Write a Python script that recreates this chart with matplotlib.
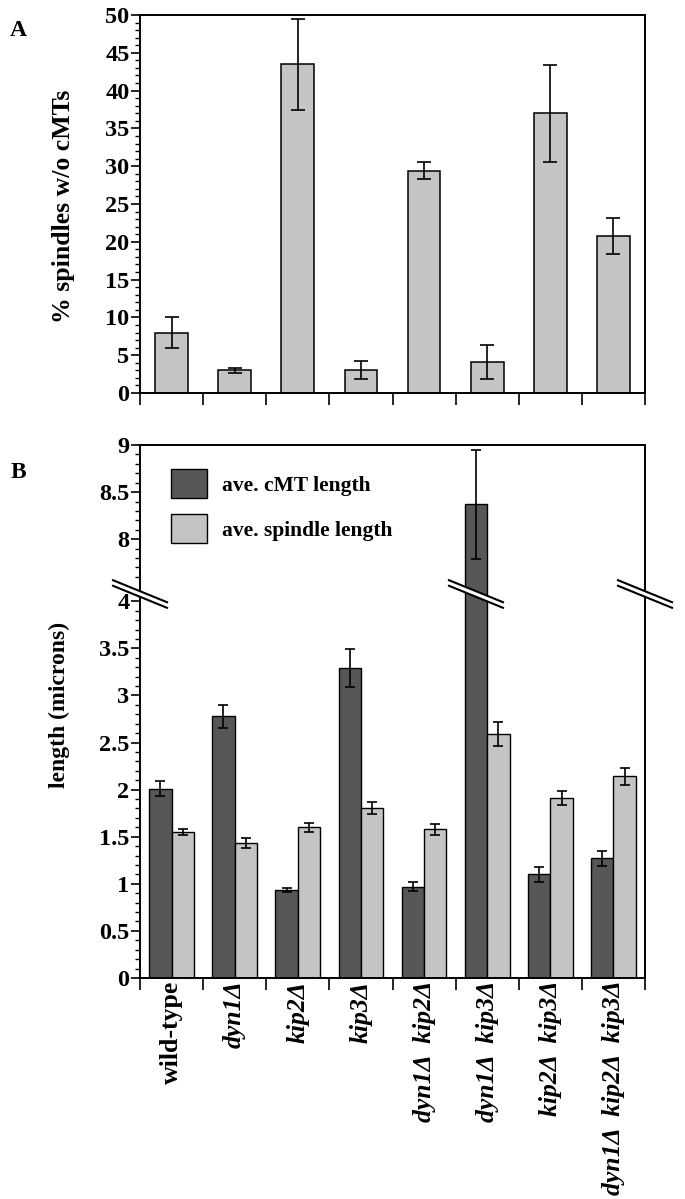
import numpy as np
import matplotlib.pyplot as plt
from matplotlib.patches import Polygon

plt.rcParams['font.family'] = ['Liberation Serif', 'DejaVu Serif']
plt.rcParams['font.weight'] = 'bold'

strains = ['wild-type', 'dyn1Δ', 'kip2Δ', 'kip3Δ', 'dyn1Δ  kip2Δ',
           'dyn1Δ  kip3Δ', 'kip2Δ  kip3Δ', 'dyn1Δ  kip2Δ  kip3Δ']

# panel A: % spindles without cytoplasmic MTs
pct_no_cmt = [8.0, 3.0, 43.5, 3.0, 29.4, 4.1, 37.0, 20.8]
pct_err = [2.0, 0.3, 6.0, 1.2, 1.1, 2.2, 6.4, 2.4]

# panel B: lengths (microns)
cmt_len = [2.01, 2.78, 0.935, 3.29, 0.97, 8.37, 1.10, 1.27]
cmt_err = [0.08, 0.12, 0.02, 0.20, 0.05, 0.58, 0.08, 0.08]
spindle_len = [1.55, 1.435, 1.60, 1.806, 1.58, 2.59, 1.915, 2.14]
spindle_err = [0.035, 0.05, 0.045, 0.06, 0.06, 0.13, 0.075, 0.09]

light = '#c4c4c4'
dark = '#575757'
W, H = 685, 1199

fig = plt.figure(figsize=(W / 100, H / 100), dpi=100)
axA = fig.add_axes([140 / W, 1 - 393 / H, 505 / W, 378 / H])
axB = fig.add_axes([140 / W, 1 - 978 / H, 505 / W, 533 / H])

x = np.arange(len(strains))
bounds = np.arange(len(strains) + 1) - 0.5

# ---- A
axA.bar(x, pct_no_cmt, width=0.52, color=light, edgecolor='black', linewidth=1.1, zorder=2)
axA.errorbar(x, pct_no_cmt, yerr=pct_err, fmt='none', ecolor='black',
             elinewidth=1.2, capsize=5, capthick=1.2, zorder=3)
axA.set_xlim(-0.5, 7.5)
axA.set_ylim(0, 50)
axA.set_yticks(np.arange(0, 51, 5))
axA.set_yticks(np.arange(0, 51, 1), minor=True)
axA.set_xticks(bounds)
axA.set_xticklabels([])
axA.tick_params(axis='x', length=8.6, width=1.2)
axA.set_ylabel('% spindles w/o cMTs', fontsize=18.5, fontweight='bold')
axA.yaxis.set_label_coords(-0.129, 0.493)
fig.text(18 / W, 1 - 30 / H, 'A', fontsize=17, fontweight='bold', ha='center', va='center')


# ---- B (broken y axis through a function scale)
def fwd(y):
    y = np.asarray(y, dtype=float)
    return np.where(y <= 4, y, np.where(y >= 7.5, y - 3.34, 4 + (y - 4) * 0.16 / 3.5))


def inv(z):
    z = np.asarray(z, dtype=float)
    return np.where(z <= 4, z, np.where(z >= 4.16, z + 3.34, 4 + (z - 4) * 3.5 / 0.16))


axB.set_yscale('function', functions=(fwd, inv))
bw = 0.355
b1 = axB.bar(x - bw / 2, cmt_len, width=bw, color=dark, edgecolor='black', linewidth=1.0,
             zorder=2, label='ave. cMT length')
b2 = axB.bar(x + bw / 2, spindle_len, width=bw, color=light, edgecolor='black', linewidth=1.0,
             zorder=2, label='ave. spindle length')
axB.errorbar(x - bw / 2, cmt_len, yerr=cmt_err, fmt='none', ecolor='black',
             elinewidth=1.2, capsize=3.6, capthick=1.2, zorder=3)
axB.errorbar(x + bw / 2, spindle_len, yerr=spindle_err, fmt='none', ecolor='black',
             elinewidth=1.2, capsize=3.6, capthick=1.2, zorder=3)
axB.set_xlim(-0.5, 7.5)
axB.set_ylim(0, 9)
majors = list(np.arange(0, 4.01, 0.5)) + [8, 8.5, 9]
axB.set_yticks(majors)
axB.set_yticklabels(['%g' % v for v in majors])
minors = [v for v in np.round(np.arange(0, 4.01, 0.1), 2)] + \
         [v for v in np.round(np.arange(7.6, 9.01, 0.1), 2)]
axB.set_yticks(minors, minor=True)
axB.set_xticks(bounds)
axB.set_xticklabels([])
axB.set_xticks(x, minor=True)
axB.set_xticklabels(strains, minor=True, rotation=90, fontsize=18.5)
for i, lab in enumerate(axB.get_xticklabels(minor=True)):
    if i > 0:
        lab.set_fontstyle('italic')
axB.tick_params(axis='x', which='major', length=8.6, width=1.2)
axB.tick_params(axis='x', which='minor', length=0, pad=2)
axB.set_ylabel('length (microns)', fontsize=17, fontweight='bold')
axB.yaxis.set_label_coords(-0.139, 0.512)
fig.text(18 / W, 1 - 472 / H, 'B', fontsize=17, fontweight='bold', ha='center', va='center')

axB.legend(handles=[b1, b2], loc='upper left', bbox_to_anchor=(0.061, 0.955),
           frameon=False, fontsize=15.5, handlelength=1.7, handleheight=1.7,
           handletextpad=0.7, labelspacing=0.75, borderpad=0, borderaxespad=0)

for ax in (axA, axB):
    for s in ax.spines.values():
        s.set_linewidth(1.4)
    ax.tick_params(axis='y', which='major', length=6.5, width=1.2, pad=1, labelsize=17.5)
    ax.tick_params(axis='y', which='minor', length=3.6, width=1.0)

# break marks
yc = (978 - 594) / 533
dx, dy, g = 27 / 505, 11 / 533, 2.8 / 533
bar_frac = (5 - bw / 2 + 0.5) / 8
for xc in (0.0, bar_frac, 1.0):
    poly = Polygon([(xc - dx, yc + dy + g), (xc + dx, yc - dy + g),
                    (xc + dx, yc - dy - g), (xc - dx, yc + dy - g)],
                   closed=True, facecolor='white', edgecolor='none',
                   transform=axB.transAxes, clip_on=False, zorder=10)
    axB.add_patch(poly)
    for s in (g, -g):
        axB.plot([xc - dx, xc + dx], [yc + dy + s, yc - dy + s], color='black', lw=1.5,
                 transform=axB.transAxes, clip_on=False, zorder=11)

fig.savefig('out.png', dpi=100)
